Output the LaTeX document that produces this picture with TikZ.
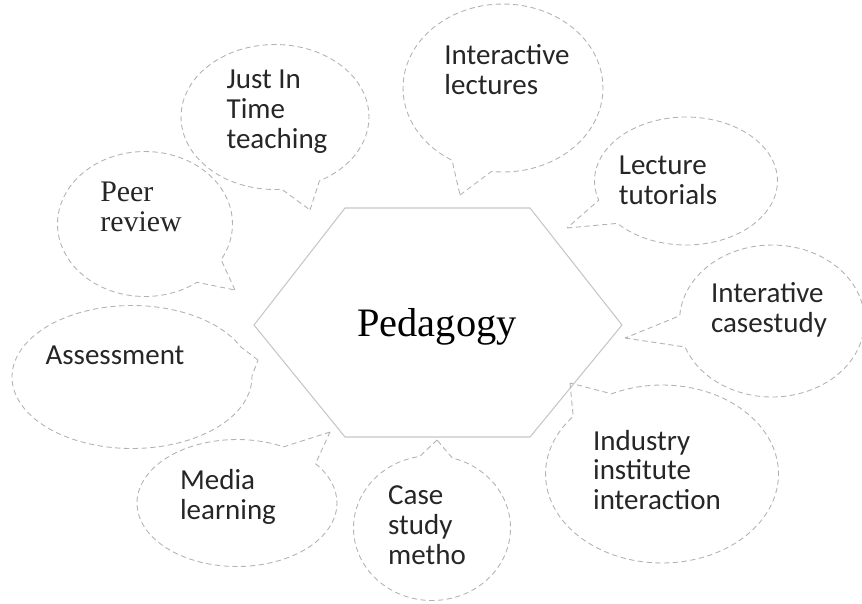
\documentclass[tikz,border=0pt]{standalone}
\usepackage{fontspec}
\setmainfont{Liberation Serif}
\newfontfamily\calib{Carlito}
\usetikzlibrary{shapes.callouts, positioning}

\begin{document}
\begin{tikzpicture}[
    x=0.02cm,
    y=-0.02cm,
    bubble/.style={ellipse callout, draw=gray!60, densely dashed, line width=0.5pt, callout pointer arc=24},
    hexline/.style={draw=gray!45, line width=0.6pt},
    lbl/.style={align=left, text=black!85, font=\calib\fontsize{16.5}{17}\selectfont},
]
    \useasboundingbox (0,0) rectangle (862,603);

    % centre
    \draw[hexline] (254,325) -- (345,208) -- (530,208) -- (622,325) -- (530,437) -- (345,437) -- cycle;
    \node[font=\fontsize{23}{27}\selectfont] (P) at (437,327) {Pedagogy};

    % bubbles round it
    \node[bubble, minimum width=3.76cm, minimum height=2.90cm, callout absolute pointer={(310,210)}] (JIT) at (275,117) {};
    \node[bubble, minimum width=4.00cm, minimum height=3.36cm, callout absolute pointer={(460,195)}] (IL)  at (503,88)  {};
    \node[bubble, minimum width=3.66cm, minimum height=2.56cm, callout absolute pointer={(567,228)}] (LT)  at (686,181) {};
    \node[bubble, minimum width=3.70cm, minimum height=3.04cm, callout absolute pointer={(625,338)}] (ICS) at (772,321) {};
    \node[bubble, minimum width=4.66cm, minimum height=3.56cm, callout absolute pointer={(570,383)}] (III) at (662,474) {};
    \node[bubble, minimum width=3.14cm, minimum height=2.90cm, callout absolute pointer={(437,440)}] (CSM) at (432,528) {};
    \node[bubble, minimum width=4.00cm, minimum height=2.54cm, callout absolute pointer={(330,432)}] (ML)  at (237,503) {};
    \node[bubble, minimum width=4.80cm, minimum height=2.86cm, callout absolute pointer={(258,360)}] (AS)  at (132,377) {};
    \node[bubble, minimum width=3.50cm, minimum height=2.90cm, callout absolute pointer={(235,290)}] (PR)  at (145,224) {};

    % texts
    \node[lbl] (tJIT) at (277,112) {Just In\\Time\\teaching};
    \node[lbl] (tIL)  at (507,70)  {Interactive\\lectures};
    \node[lbl] (tLT)  at (668,180) {Lecture\\tutorials};
    \node[lbl] (tICS) at (769,310) {Interative\\casestudy};
    \node[lbl] (tIII) at (657,470) {Industry\\institute\\interaction};
    \node[lbl] (tCSM) at (427,525) {Case\\study\\metho};
    \node[lbl] (tML)  at (228,497) {Media\\learning};
    \node[lbl] (tAS)  at (115,355) {Assessment};
    \node[lbl, font=\fontsize{17}{17}\selectfont] (tPR) at (141,207) {Peer\\review};
\end{tikzpicture}
\end{document}
